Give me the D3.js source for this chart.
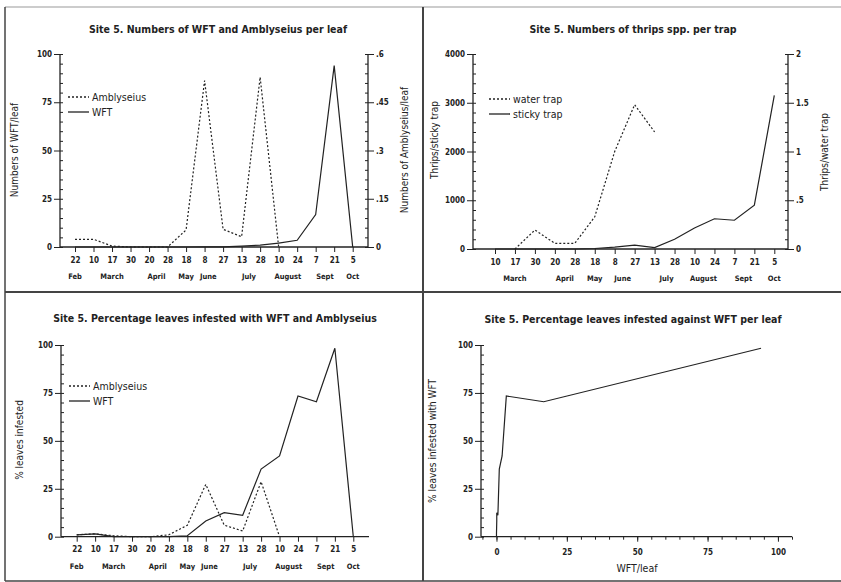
<!DOCTYPE html>
<html>
<head>
<meta charset="utf-8">
<script src="https://cdn.jsdelivr.net/npm/d3@7"></script>
<style>
  body { margin: 0; background: #fff; }
  svg { display: block; }
</style>
</head>
<body>
<div id="chart"></div>
<script>
// sampling dates (day of month) and month names
const datesA = ["22", "10", "17", "30", "20", "28", "18", "8", "27", "13", "28", "10", "24", "7", "21", "5"];
const monthsA = ["Feb", "March", "April", "May", "June", "July", "August", "Sept", "Oct"];
const monthIdxA = [0, 2, 4.4, 6, 7.2, 9.4, 11.5, 13.5, 15];

const datesB = ["10", "17", "30", "20", "28", "18", "8", "27", "13", "28", "10", "24", "7", "21", "5"];
const monthsB = ["March", "April", "May", "June", "July", "August", "Sept", "Oct"];
const monthIdxB = [1, 3.5, 5, 6.4, 8.6, 10.45, 12.45, 14];

// Site 5, numbers per leaf
const wftLeaf = [0, 0, 0, 0, 0, 0, 0, 0.1, 0.1, 0.5, 1, 2, 3.5, 16.8, 94, 0];
const amblyLeaf = [0.024, 0.024, 0.003, 0, 0, 0, 0.053, 0.517, 0.055, 0.032, 0.528, 0, null, null, null, null];

// Site 5, thrips per trap
const stickyTrap = [0, 0, 0, 0, 0, 10, 40, 80, 30, 200, 430, 620, 590, 900, 3150];
const waterTrap = [null, 0, 0.195, 0.058, 0.058, 0.33, 1.0, 1.48, 1.2, null, null, null, null, null, null];

// Site 5, percentage leaves infested
const wftPct = [1, 1.5, 0, 0, 0, 0, 0.5, 8.2, 12.5, 11.2, 35.3, 42.1, 73.4, 70.4, 98.3, 0];
const amblyPct = [1, 1.5, 0.5, 0, 0, 1, 6, 27.3, 6, 3, 28.7, 0, null, null, null, null];

const fontFam = '"DejaVu Sans Condensed", "Liberation Sans", sans-serif';
const ink = "#222";

const svg = d3.select("#chart").append("svg")
    .attr("width", 841)
    .attr("height", 582)
    .attr("viewBox", [0, 0, 841, 582])
    .style("font-family", fontFam);

// frame of the four panels
const frame = svg.append("g").attr("stroke", "#444").attr("fill", "none");
frame.append("line").attr("x1", 5).attr("x2", 841).attr("y1", 7).attr("y2", 7).attr("stroke", "#999");
frame.append("line").attr("x1", 5).attr("x2", 5).attr("y1", 7).attr("y2", 581).attr("stroke-width", 1.5);
frame.append("line").attr("x1", 5).attr("x2", 841).attr("y1", 581).attr("y2", 581).attr("stroke-width", 1.5);
frame.append("line").attr("x1", 423).attr("x2", 423).attr("y1", 7).attr("y2", 581).attr("stroke-width", 2);
frame.append("line").attr("x1", 5).attr("x2", 841).attr("y1", 292).attr("y2", 292).attr("stroke-width", 2);

const noZero = d => d === 0 ? "0" : String(d).replace(/^0\./, ".");

function styleAxis(g) {
    g.select(".domain").remove();
    g.selectAll("line").attr("stroke", ink);
    g.selectAll("text").attr("fill", ink).style("font-family", fontFam)
        .style("font-size", "8px").style("font-weight", "bold");
}

function yAxisPair(g, y, x, ticks, minor, side, fmt) {
    const major = side === "left" ? d3.axisLeft(y) : d3.axisRight(y);
    const inner = side === "left" ? d3.axisRight(y) : d3.axisLeft(y);
    g.append("g").attr("transform", `translate(${x},0)`)
        .call(major.tickValues(ticks).tickSize(6).tickPadding(2).tickFormat(fmt))
        .call(styleAxis);
    g.append("g").attr("transform", `translate(${x},0)`)
        .call(inner.tickValues(minor).tickSize(3).tickFormat(""))
        .call(styleAxis);
    g.append("line").attr("x1", x).attr("x2", x)
        .attr("y1", y.range()[0]).attr("y2", y.range()[1])
        .attr("stroke", ink).attr("stroke-width", 1.3);
}

function addText(g, txt, x, y, size, opts = {}) {
    const t = g.append("text").attr("fill", ink)
        .style("font-size", size + "px")
        .attr("text-anchor", opts.anchor || "middle")
        .text(txt);
    if (opts.bold) t.style("font-weight", "bold");
    if (opts.rotate) {
        t.attr("transform", `translate(${x},${y}) rotate(-90)`);
    } else {
        t.attr("x", x).attr("y", y);
    }
    return t;
}

function legend(g, items, x, y) {
    items.forEach((it, i) => {
        const yy = y + i * 15;
        g.append("line").attr("x1", x).attr("x2", x + 21).attr("y1", yy).attr("y2", yy)
            .attr("stroke", ink).attr("stroke-width", 1.3)
            .attr("stroke-dasharray", it.dash ? "2,2" : null);
        addText(g, it.name, x + 24, yy + 4, 10.5, { anchor: "start" });
    });
}

function timePanel(o) {
    const g = svg.append("g");
    const n = o.dates.length;
    const x = d3.scaleLinear().domain([0, n - 1]).range([o.first, o.last]);
    const yL = d3.scaleLinear().domain(o.leftDomain).range([o.y0, o.yTop]);

    addText(g, o.title, o.titleX, o.titleY, 10.5, { bold: true });

    // x axis
    g.append("line").attr("x1", o.x0).attr("x2", o.x1).attr("y1", o.y0).attr("y2", o.y0)
        .attr("stroke", ink).attr("stroke-width", 1.3);
    g.append("g").attr("transform", `translate(0,${o.y0})`)
        .call(d3.axisBottom(x).tickValues(d3.range(n)).tickSize(5).tickPadding(5)
            .tickFormat(i => o.dates[i]))
        .call(styleAxis);
    o.months.forEach((m, i) => {
        addText(g, m, x(o.monthIdx[i]), o.y0 + 32, 7.5, { bold: true });
    });

    yAxisPair(g, yL, o.x0, o.leftTicks, o.leftMinor, "left", noZero);
    addText(g, o.leftLabel, o.leftLabelX, o.labelY, 10, { rotate: true });

    let yR = null;
    if (o.rightDomain) {
        yR = d3.scaleLinear().domain(o.rightDomain).range([o.y0, o.yTop]);
        yAxisPair(g, yR, o.x1, o.rightTicks, o.rightMinor, "right", noZero);
        addText(g, o.rightLabel, o.rightLabelX, o.rightLabelY, 10, { rotate: true });
    }

    o.series.forEach(s => {
        const y = s.axis === "right" ? yR : yL;
        const line = d3.line()
            .defined(d => d != null)
            .x((d, i) => x(i))
            .y(d => y(d));
        g.append("path").datum(s.values)
            .attr("fill", "none")
            .attr("stroke", ink)
            .attr("stroke-width", 1.2)
            .attr("stroke-dasharray", s.dash ? "2,2" : null)
            .attr("d", line);
    });

    legend(g, o.series.map(s => ({ name: s.name, dash: s.dash })).sort((a, b) => b.dash - a.dash),
        o.legendX, o.legendY);
}

// panel 1
timePanel({
    title: "Site 5. Numbers of WFT and Amblyseius per leaf", titleX: 218, titleY: 33,
    dates: datesA, months: monthsA, monthIdx: monthIdxA,
    x0: 60, x1: 368, first: 75, last: 352.7, y0: 247, yTop: 54,
    leftDomain: [0, 100], leftTicks: [0, 25, 50, 75, 100], leftMinor: d3.range(0, 101, 5),
    leftLabel: "Numbers of WFT/leaf", leftLabelX: 18, labelY: 150,
    rightDomain: [0, 0.6], rightTicks: [0, 0.15, 0.3, 0.45, 0.6], rightMinor: d3.range(0, 0.61, 0.03),
    rightLabel: "Numbers of Amblyseius/leaf", rightLabelX: 408, rightLabelY: 150,
    series: [
        { name: "WFT", values: wftLeaf, axis: "left", dash: false },
        { name: "Amblyseius", values: amblyLeaf, axis: "right", dash: true }
    ],
    legendX: 68, legendY: 97
});

// panel 2
timePanel({
    title: "Site 5. Numbers of thrips spp. per trap", titleX: 633, titleY: 33,
    dates: datesB, months: monthsB, monthIdx: monthIdxB,
    x0: 473, x1: 788, first: 495, last: 774.3, y0: 249, yTop: 54,
    leftDomain: [0, 4000], leftTicks: [0, 1000, 2000, 3000, 4000], leftMinor: d3.range(0, 4001, 200),
    leftLabel: "Thrips/sticky trap", leftLabelX: 438, labelY: 140,
    rightDomain: [0, 2], rightTicks: [0, 0.5, 1, 1.5, 2], rightMinor: d3.range(0, 2.01, 0.1),
    rightLabel: "Thrips/water trap", rightLabelX: 828, rightLabelY: 152,
    series: [
        { name: "sticky trap", values: stickyTrap, axis: "left", dash: false },
        { name: "water trap", values: waterTrap, axis: "right", dash: true }
    ],
    legendX: 489, legendY: 99
});

// panel 3
timePanel({
    title: "Site 5. Percentage leaves infested with WFT and Amblyseius", titleX: 215, titleY: 322,
    dates: datesA, months: monthsA, monthIdx: monthIdxA,
    x0: 61, x1: 369, first: 76.7, last: 353.3, y0: 536.7, yTop: 345,
    leftDomain: [0, 100], leftTicks: [0, 25, 50, 75, 100], leftMinor: d3.range(0, 101, 5),
    leftLabel: "% leaves infested", leftLabelX: 23, labelY: 440,
    series: [
        { name: "WFT", values: wftPct, axis: "left", dash: false },
        { name: "Amblyseius", values: amblyPct, axis: "left", dash: true }
    ],
    legendX: 69, legendY: 386
});

// panel 4: % leaves infested against WFT per leaf
(function () {
    const g = svg.append("g");
    const x = d3.scaleLinear().domain([-5.5, 105]).range([481, 792]);
    const y = d3.scaleLinear().domain([0, 100]).range([536.7, 345]);
    const pts = d3.range(wftLeaf.length).map(i => [wftLeaf[i], wftPct[i]])
        .sort((a, b) => a[0] - b[0] || a[1] - b[1]);

    addText(g, "Site 5. Percentage leaves infested against WFT per leaf", 633, 323, 10.5, { bold: true });

    g.append("line").attr("x1", x.range()[0]).attr("x2", x.range()[1])
        .attr("y1", y(0)).attr("y2", y(0)).attr("stroke", ink).attr("stroke-width", 1.3);
    g.append("g").attr("transform", `translate(0,${y(0)})`)
        .call(d3.axisBottom(x).tickValues([0, 25, 50, 75, 100]).tickSize(5).tickPadding(8))
        .call(styleAxis);
    g.append("g").attr("transform", `translate(0,${y(0)})`)
        .call(d3.axisBottom(x).tickValues(d3.range(-5, 106, 5)).tickSize(3).tickFormat(""))
        .call(styleAxis);
    addText(g, "WFT/leaf", 637, 572, 10.5);

    yAxisPair(g, y, 481, [0, 25, 50, 75, 100], d3.range(0, 101, 5), "left", noZero);
    addText(g, "% leaves infested with WFT", 436, 441, 10, { rotate: true });

    g.append("path").datum(pts)
        .attr("fill", "none").attr("stroke", ink).attr("stroke-width", 1.2)
        .attr("d", d3.line().x(d => x(d[0])).y(d => y(d[1])));
})();
</script>
</body>
</html>
